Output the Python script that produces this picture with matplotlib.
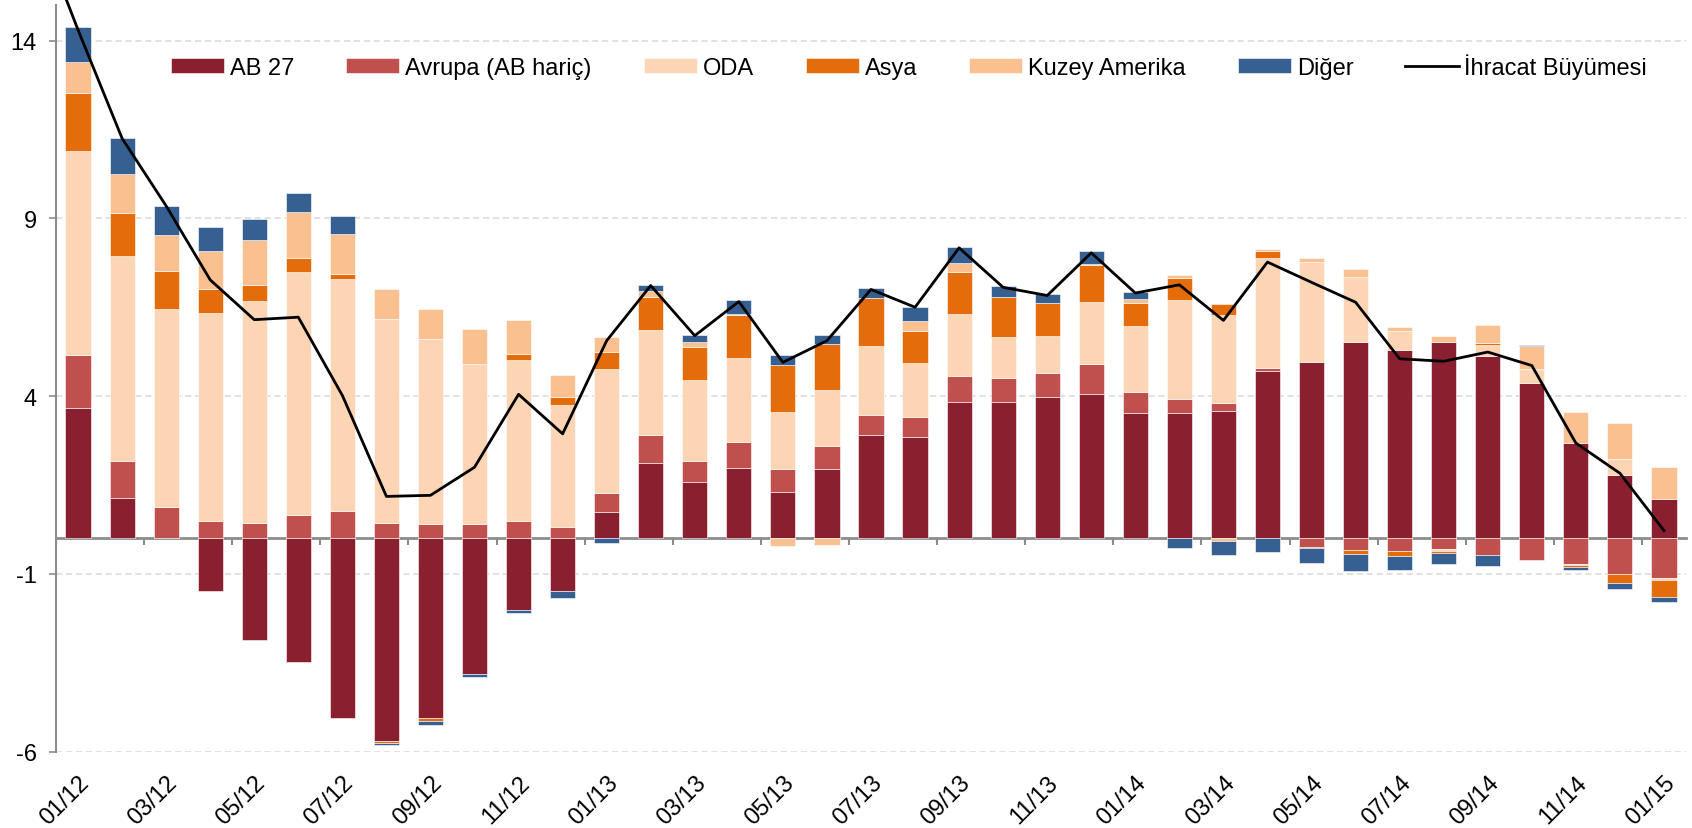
import numpy as np
import matplotlib
matplotlib.use("Agg")
import matplotlib.pyplot as plt

plt.rcParams["font.family"] = ["Liberation Sans", "DejaVu Sans"]
plt.rcParams["axes.unicode_minus"] = False

# months 01/12 .. 01/15
months = ["01/12", "02/12", "03/12", "04/12", "05/12", "06/12", "07/12", "08/12",
          "09/12", "10/12", "11/12", "12/12", "01/13", "02/13", "03/13", "04/13",
          "05/13", "06/13", "07/13", "08/13", "09/13", "10/13", "11/13", "12/13",
          "01/14", "02/14", "03/14", "04/14", "05/14", "06/14", "07/14", "08/14",
          "09/14", "10/14", "11/14", "12/14", "01/15"]

# contributions to export growth (percentage points)
ab27 = [3.66, 1.14, 0.00, -1.49, -2.85, -3.48, -5.06, -5.71, -5.06, -3.81, -2.01, -1.49,
        0.75, 2.12, 1.58, 1.98, 1.30, 1.95, 2.91, 2.86, 3.84, 3.83, 3.98, 4.07,
        3.53, 3.53, 3.58, 4.70, 4.97, 5.51, 5.30, 5.51, 5.14, 4.37, 2.69, 1.79, 1.11]
avrupa = [1.50, 1.03, 0.88, 0.49, 0.44, 0.66, 0.77, 0.43, 0.41, 0.41, 0.50, 0.33,
          0.53, 0.79, 0.59, 0.74, 0.65, 0.65, 0.56, 0.56, 0.73, 0.67, 0.67, 0.83,
          0.60, 0.39, 0.23, 0.09, -0.23, -0.32, -0.36, -0.29, -0.46, -0.60, -0.73, -1.00, -1.12]
oda = [5.72, 5.77, 5.57, 5.84, 6.23, 6.84, 6.52, 5.73, 5.20, 4.48, 4.52, 3.43,
       3.47, 2.95, 2.27, 2.36, 1.59, 1.58, 1.95, 1.51, 1.73, 1.16, 1.04, 1.74,
       1.84, 2.79, 2.48, 3.10, 2.81, 1.85, 0.52, -0.06, 0.31, 0.36, -0.03, 0.43, -0.05]
asya = [1.65, 1.21, 1.06, 0.69, 0.46, 0.38, 0.14, -0.04, -0.07, 0.00, 0.17, 0.21,
        0.50, 0.92, 0.93, 1.21, 1.34, 1.28, 1.33, 0.91, 1.19, 1.12, 0.92, 1.05,
        0.65, 0.62, 0.31, 0.18, -0.05, -0.12, -0.14, -0.06, 0.04, 0.04, -0.05, -0.26, -0.48]
kuzey_amerika = [0.86, 1.11, 1.03, 1.07, 1.26, 1.29, 1.13, 0.85, 0.84, 1.00, 0.94, 0.63,
                 0.41, 0.19, 0.14, 0.02, -0.21, -0.19, 0.02, 0.27, 0.25, 0.02, 0.02, 0.02,
                 0.12, 0.08, -0.07, 0.07, 0.11, 0.21, 0.13, 0.19, 0.51, 0.63, 0.85, 1.03, 0.90]
diger = [0.99, 1.01, 0.82, 0.66, 0.60, 0.53, 0.51, -0.07, -0.11, -0.08, -0.08, -0.18,
         -0.13, 0.15, 0.20, 0.38, 0.27, 0.26, 0.28, 0.40, 0.46, 0.29, 0.24, 0.36,
         0.18, -0.28, -0.39, -0.37, -0.42, -0.49, -0.38, -0.32, -0.32, 0.05, -0.07, -0.16, -0.14]

# export growth line; the 12/11 value sits above the chart and is cut off
growth_dec11 = 17.5
growth = [14.30, 11.25, 9.35, 7.27, 6.15, 6.22, 4.02, 1.18, 1.21, 2.00, 4.05, 2.94,
          5.56, 7.11, 5.70, 6.66, 4.95, 5.56, 7.00, 6.50, 8.17, 7.06, 6.83, 8.03,
          6.90, 7.13, 6.13, 7.77, 7.20, 6.64, 5.05, 4.98, 5.24, 4.86, 2.68, 1.83, 0.22]

series_names = ["AB 27", "Avrupa (AB hariç)", "ODA", "Asya", "Kuzey Amerika", "Diğer"]
series_colors = ["#8A1F2F", "#C0504D", "#FCD5B4", "#E46C0A", "#FAC090", "#366092"]
line_name = "İhracat Büyümesi"

y_min, y_max = -6, 15
axis_gray = "#8C8C8C"

fig = plt.figure(figsize=(16.92, 8.29), dpi=100)
ax = fig.add_axes([56 / 1692, 1 - 752.7 / 829, 1630 / 1692, 746.7 / 829])

x = np.arange(len(months))
pos_base = np.zeros(len(months))
neg_base = np.zeros(len(months))
handles = []
for vals, color, name in zip([ab27, avrupa, oda, asya, kuzey_amerika, diger],
                             series_colors, series_names):
    v = np.array(vals)
    bottom = np.where(v >= 0, pos_base, neg_base)
    bars = ax.bar(x, v, width=0.57, bottom=bottom, color=color,
                  edgecolor="white", linewidth=0.4, label=name, zorder=2)
    handles.append(bars)
    pos_base += np.clip(v, 0, None)
    neg_base += np.clip(v, None, 0)

line_x = np.concatenate([[-1], x])
line_y = np.concatenate([[growth_dec11], growth])
(line,) = ax.plot(line_x, line_y, color="black", linewidth=2.0, zorder=5,
                  clip_on=False, label=line_name)
handles.append(line)

ax.set_xlim(-0.5, len(months) - 0.5)
ax.set_ylim(y_min, y_max)

# y axis
ax.set_yticks([-6, -1, 4, 9, 14])
ax.tick_params(axis="y", direction="out", length=5, width=1.2, color=axis_gray,
               labelsize=17, pad=9)
ax.yaxis.grid(True, color="#D9D9D9", linestyle=(0, (4, 2.5)), linewidth=1.1)
ax.set_axisbelow(True)
for side in ["top", "right", "bottom"]:
    ax.spines[side].set_visible(False)
ax.spines["left"].set_color(axis_gray)
ax.spines["left"].set_linewidth(1.5)

# category labels at the bottom, every second month
ax.set_xticks(x[::2])
ax.set_xticklabels(months[::2], rotation=45, ha="right", rotation_mode="anchor",
                   fontsize=17)
ax.tick_params(axis="x", length=0, pad=14)

# zero line with tick marks between categories
sec = ax.secondary_xaxis((0 - y_min) / (y_max - y_min))
sec.set_xticks(np.arange(-0.5, len(months), 2))
sec.tick_params(axis="x", direction="out", length=5, width=1.5, color=axis_gray,
                labelbottom=False, labeltop=False)
for side in ["top", "bottom"]:
    sec.spines[side].set_color(axis_gray)
    sec.spines[side].set_linewidth(2)

ax.legend(handles=handles, labels=series_names + [line_name], ncol=7,
          loc="center left", bbox_to_anchor=(171 / 1692, 1 - 67 / 829),
          bbox_transform=fig.transFigure, frameon=False, fontsize=17,
          handlelength=2.25, handleheight=0.6, handletextpad=0.25,
          columnspacing=2.2, borderpad=0, borderaxespad=0)

fig.savefig("out.png", dpi=100)
